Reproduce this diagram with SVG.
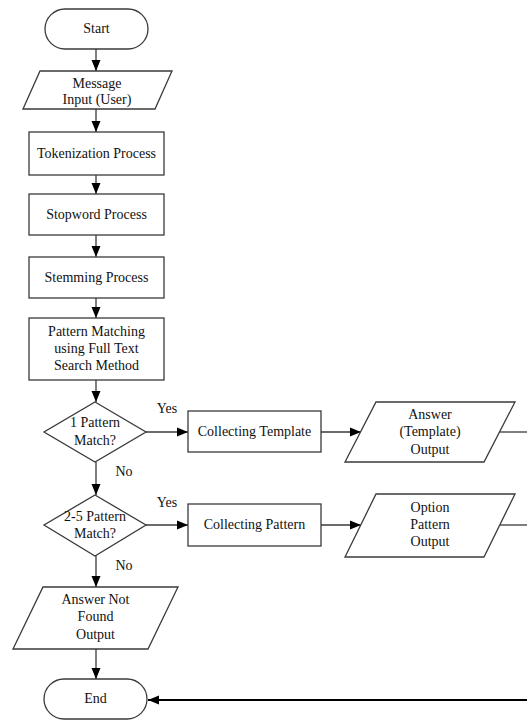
<svg xmlns="http://www.w3.org/2000/svg" width="527" height="720" viewBox="0 0 527 720">
<defs>
<style>
.s{fill:#fff;stroke:#3a3a3a;stroke-width:1.3}
.t{font-family:'Liberation Serif','Times New Roman',serif;font-size:14px;fill:#111;text-anchor:middle}
.c{fill:none;stroke:#3a3a3a;stroke-width:1.3}
</style>
<marker id="ah" markerUnits="userSpaceOnUse" markerWidth="12" markerHeight="12" viewBox="0 0 12 12" refX="11" refY="6" orient="auto">
<path d="M0,1.5 L11,6 L0,10.5 Z" fill="#000"/>
</marker>
</defs>
<rect width="527" height="720" fill="#fff"/>
<g id="connectors">
<line class="c" x1="96" y1="49" x2="96" y2="71" marker-end="url(#ah)"/>
<line class="c" x1="96" y1="109" x2="96" y2="132" marker-end="url(#ah)"/>
<line class="c" x1="96" y1="175" x2="96" y2="194" marker-end="url(#ah)"/>
<line class="c" x1="96" y1="235" x2="96" y2="257" marker-end="url(#ah)"/>
<line class="c" x1="96" y1="298" x2="96" y2="318" marker-end="url(#ah)"/>
<line class="c" x1="96" y1="380" x2="96" y2="402" marker-end="url(#ah)"/>
<line class="c" x1="96" y1="462" x2="96" y2="495" marker-end="url(#ah)"/>
<line class="c" x1="96" y1="556" x2="96" y2="587" marker-end="url(#ah)"/>
<line class="c" x1="96" y1="649" x2="96" y2="679" marker-end="url(#ah)"/>
<line class="c" x1="146" y1="432" x2="188" y2="432" marker-end="url(#ah)"/>
<line class="c" x1="321" y1="432" x2="361" y2="432" marker-end="url(#ah)"/>
<line class="c" x1="500" y1="432" x2="527" y2="432"/>
<line class="c" x1="146" y1="525" x2="188" y2="525" marker-end="url(#ah)"/>
<line class="c" x1="321" y1="525" x2="361" y2="525" marker-end="url(#ah)"/>
<line class="c" x1="500" y1="525" x2="527" y2="525"/>
<line x1="527" y1="700" x2="148" y2="700" stroke="#000" stroke-width="1.8" marker-end="url(#ah)"/>
<text class="t" x="167" y="413">Yes</text>
<text class="t" x="124" y="476">No</text>
<text class="t" x="167" y="507">Yes</text>
<text class="t" x="124" y="570">No</text>
</g>
<g id="start">
<rect class="s" x="45" y="9" width="103" height="40" rx="20" ry="20"/>
<text class="t" x="96.5" y="33">Start</text>
</g>
<g id="message-input">
<polygon class="s" points="40,71 172,71 155,109 23,109"/>
<text class="t" x="97" y="88">Message</text>
<text class="t" x="97" y="104">Input (User)</text>
</g>
<g id="tokenization">
<rect class="s" x="29" y="132" width="135" height="43"/>
<text class="t" x="96.5" y="158">Tokenization Process</text>
</g>
<g id="stopword">
<rect class="s" x="29" y="194" width="135" height="41"/>
<text class="t" x="96.5" y="219">Stopword Process</text>
</g>
<g id="stemming">
<rect class="s" x="29" y="257" width="135" height="41"/>
<text class="t" x="96.5" y="282">Stemming Process</text>
</g>
<g id="pattern-matching">
<rect class="s" x="29" y="318" width="135" height="62"/>
<text class="t" x="96.5" y="336">Pattern Matching</text>
<text class="t" x="96.5" y="353">using Full Text</text>
<text class="t" x="96.5" y="370">Search Method</text>
</g>
<g id="decision-1">
<polygon class="s" points="95,402 146,432 95,462 44,432"/>
<text class="t" x="95" y="427">1 Pattern</text>
<text class="t" x="95" y="445">Match?</text>
</g>
<g id="collecting-template">
<rect class="s" x="188" y="411" width="133" height="41"/>
<text class="t" x="254.5" y="436">Collecting Template</text>
</g>
<g id="answer-template">
<polygon class="s" points="376,402 515,402 484,462 345,462"/>
<text class="t" x="430" y="419">Answer</text>
<text class="t" x="430" y="436">(Template)</text>
<text class="t" x="430" y="454">Output</text>
</g>
<g id="decision-2">
<polygon class="s" points="95,495 146,525 95,556 44,525"/>
<text class="t" x="95" y="521">2-5 Pattern</text>
<text class="t" x="95" y="538">Match?</text>
</g>
<g id="collecting-pattern">
<rect class="s" x="188" y="504" width="133" height="42"/>
<text class="t" x="254.5" y="529">Collecting Pattern</text>
</g>
<g id="option-pattern">
<polygon class="s" points="376,494 515,494 484,557 345,557"/>
<text class="t" x="430" y="512">Option</text>
<text class="t" x="430" y="529">Pattern</text>
<text class="t" x="430" y="546">Output</text>
</g>
<g id="answer-not-found">
<polygon class="s" points="43,587 178,587 148,649 13,649"/>
<text class="t" x="95.5" y="604">Answer Not</text>
<text class="t" x="95.5" y="621">Found</text>
<text class="t" x="95.5" y="639">Output</text>
</g>
<g id="end">
<rect class="s" x="44" y="679" width="103" height="40" rx="20" ry="20"/>
<text class="t" x="95.5" y="703">End</text>
</g>
</svg>
